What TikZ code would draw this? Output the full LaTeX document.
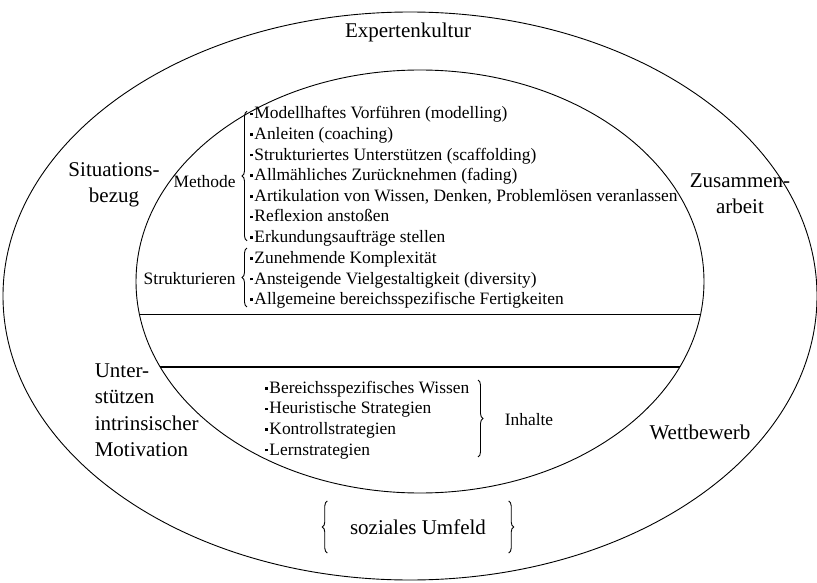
\documentclass[tikz,border=0pt]{standalone}
\usepackage{fontspec}
\setmainfont{Liberation Serif}
\usetikzlibrary{decorations.pathreplacing}
\newcommand{\pkt}{\raisebox{0.22em}{\rule{2.5pt}{2.5pt}}\hspace{1.5pt}}
\tikzset{
  gross/.style={font=\fontsize{21}{26.5}\selectfont},
  klein/.style={font=\fontsize{17.4}{20.6}\selectfont, align=left, inner sep=0pt},
  klammer/.style={decorate, decoration={brace, amplitude=5pt}},
}
\begin{document}
\begin{tikzpicture}[x=1pt,y=-1pt,line width=0.9pt]
\useasboundingbox (0,0) rectangle (817,583);
\draw (410,296) ellipse [x radius=407, y radius=284];
\draw (420,281.5) ellipse [x radius=284, y radius=211.5];
\begin{scope}
\clip (420,281.5) ellipse [x radius=284, y radius=211.5];
\draw (0,314) -- (817,314);
\draw[line width=1.4pt] (0,367) -- (817,367);
\end{scope}

\node[gross] (Experten) at (408,32) {Expertenkultur};
\node[gross, align=center] (Situation) at (114,185) {Situations-\\bezug};
\node[gross, align=center] (Zusammen) at (740,193.5) {Zusammen-\\arbeit};
\node[gross, align=left, anchor=west] (Motivation) at (91,410) {Unter-\\stützen\\intrinsischer\\Motivation};
\node[gross] (Wettbewerb) at (700,432) {Wettbewerb};

\node[klein, anchor=west] (Methoden) at (250,176.5) {\pkt Modellhaftes Vorführen (modelling)\\
\pkt Anleiten (coaching)\\
\pkt Strukturiertes Unterstützen (scaffolding)\\
\pkt Allmähliches Zurücknehmen (fading)\\
\pkt Artikulation von Wissen, Denken, Problemlösen veranlassen\\
\pkt Reflexion anstoßen\\
\pkt Erkundungsaufträge stellen};
\node[klein, anchor=west] (Strukturen) at (250,280) {\pkt Zunehmende Komplexität\\
\pkt Ansteigende Vielgestaltigkeit (diversity)\\
\pkt Allgemeine bereichsspezifische Fertigkeiten};
\node[klein, anchor=east] (Methode) at (236,182) {Methode};
\node[klein, anchor=east] (Strukturieren) at (236,279) {Strukturieren};

\draw[klammer] ([xshift=-3pt,yshift=6pt]Methoden.south west) -- ([xshift=-3pt,yshift=-5pt]Methoden.north west);
\draw[klammer] ([xshift=-3pt,yshift=2pt]Strukturen.south west) -- ([xshift=-3pt,yshift=3pt]Strukturen.north west);

\node[klein, anchor=west] (Inhaltsliste) at (265,420) {\pkt Bereichsspezifisches Wissen\\
\pkt Heuristische Strategien\\
\pkt Kontrollstrategien\\
\pkt Lernstrategien};
\node[klein] (Inhalte) at (529,420) {Inhalte};
\draw[klammer] (478,380) -- (478,457);

\node[gross] (Umfeld) at (418,527) {soziales Umfeld};
\draw[klammer] ([xshift=-19pt,yshift=-26pt]Umfeld.west) -- ([xshift=-19pt,yshift=26pt]Umfeld.west);
\draw[klammer] ([xshift=19pt,yshift=26pt]Umfeld.east) -- ([xshift=19pt,yshift=-26pt]Umfeld.east);
\end{tikzpicture}
\end{document}
